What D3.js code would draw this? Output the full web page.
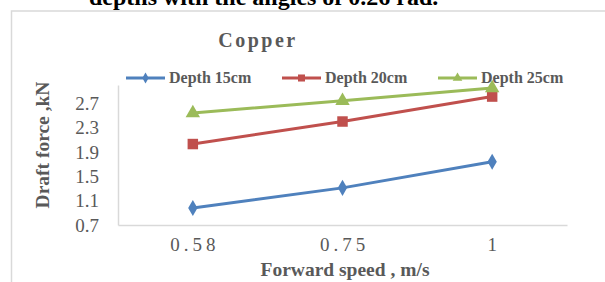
<!DOCTYPE html>
<html>
<head>
<meta charset="utf-8">
<script src="https://cdn.jsdelivr.net/npm/d3@7"></script>
<style>
  body { margin: 0; background: #fff; }
  svg text { font-family: "Liberation Serif", "Times New Roman", serif; }
</style>
</head>
<body>
<div id="chart"></div>
<script>
// datos
const speeds = ["0.58", "0.75", "1"];
const depth15 = [0.98, 1.31, 1.74];
const depth20 = [2.03, 2.40, 2.81];
const depth25 = [2.54, 2.74, 2.95];
const seriesNames = ["Depth 15cm", "Depth 20cm", "Depth 25cm"];
const yTicks = [0.7, 1.1, 1.5, 1.9, 2.3, 2.7];

const width = 605, height = 282;
const margin = { top: 85, right: 38, bottom: 57, left: 118 };

const svg = d3.select("#chart").append("svg")
    .attr("width", width)
    .attr("height", height);

// texto del documento cortado arriba
svg.append("text")
    .attr("x", 89).attr("y", 5)
    .attr("font-size", 24).attr("font-weight", "bold")
    .attr("fill", "#000")
    .text("depths with the angles of 0.26 rad.");

// marco del grafico
svg.append("rect")
    .attr("x", 11.5).attr("y", 11)
    .attr("width", 700).attr("height", 400)
    .attr("fill", "none").attr("stroke", "#D9D9D9").attr("stroke-width", 1.5);

const x = d3.scaleBand()
    .domain(speeds)
    .range([margin.left, width - margin.right]);

const y = d3.scaleLinear()
    .domain([0.7, 3.0])
    .range([height - margin.bottom, margin.top]);

// ejes
svg.append("g")
    .attr("transform", `translate(${margin.left},0)`)
    .call(d3.axisLeft(y).tickValues(yTicks).tickFormat(d3.format(".1f")).tickSize(0).tickPadding(19))
    .call(g => g.select(".domain").attr("stroke", "#D9D9D9").attr("stroke-width", 1.5))
    .call(g => g.selectAll("text").attr("font-size", 19).attr("fill", "#595959")
        .attr("font-family", "Liberation Serif, serif"));

svg.append("g")
    .attr("transform", `translate(0,${height - margin.bottom})`)
    .call(d3.axisBottom(x).tickSize(0).tickPadding(13))
    .call(g => g.select(".domain").attr("stroke", "#D9D9D9").attr("stroke-width", 1.5))
    .call(g => g.selectAll("text").attr("font-size", 19).attr("fill", "#595959")
        .attr("letter-spacing", 4).attr("dx", 2).attr("font-family", "Liberation Serif, serif"));

// titulos
svg.append("text")
    .attr("x", 258).attr("y", 47)
    .attr("text-anchor", "middle")
    .attr("font-size", 20).attr("font-weight", "bold")
    .attr("letter-spacing", 2.5)
    .attr("fill", "#595959")
    .text("Copper");

svg.append("text")
    .attr("x", 345).attr("y", 276)
    .attr("text-anchor", "middle")
    .attr("font-size", 19.5).attr("font-weight", "bold")
    .attr("fill", "#595959")
    .text("Forward speed , m/s");

svg.append("text")
    .attr("transform", "translate(49,145) rotate(-90)")
    .attr("text-anchor", "middle")
    .attr("font-size", 19.5).attr("font-weight", "bold")
    .attr("fill", "#595959")
    .text("Draft force ,kN");

// series
const series = [
    { name: seriesNames[0], values: depth15, color: "#4F81BD", symbol: d3.symbolDiamond, size: 75 },
    { name: seriesNames[1], values: depth20, color: "#C0504D", symbol: d3.symbolSquare, size: 110 },
    { name: seriesNames[2], values: depth25, color: "#9BBB59", symbol: d3.symbolTriangle, size: 90 }
];

const xc = d => x(d) + x.bandwidth() / 2;

const linea = d3.line()
    .x((d, i) => xc(speeds[i]))
    .y(d => y(d));

series.forEach(s => {
    svg.append("path")
        .datum(s.values)
        .attr("fill", "none")
        .attr("stroke", s.color)
        .attr("stroke-width", 3)
        .attr("d", linea);

    svg.selectAll(null)
        .data(s.values)
        .join("path")
        .attr("transform", (d, i) => `translate(${xc(speeds[i])},${y(d)})`)
        .attr("d", d3.symbol(s.symbol, s.size))
        .attr("fill", s.color);
});

// leyenda
const legendX = [126, 282, 438];
series.forEach((s, i) => {
    const g = svg.append("g").attr("transform", `translate(${legendX[i]},78)`);
    g.append("line")
        .attr("x1", 0).attr("x2", 39)
        .attr("stroke", s.color).attr("stroke-width", 3);
    g.append("path")
        .attr("transform", "translate(19.5,0)")
        .attr("d", d3.symbol(s.symbol, s.size * 0.45))
        .attr("fill", s.color);
    g.append("text")
        .attr("x", 43).attr("y", 5)
        .attr("font-size", 16).attr("font-weight", "bold")
        .attr("fill", "#595959")
        .text(s.name);
});
</script>
</body>
</html>
